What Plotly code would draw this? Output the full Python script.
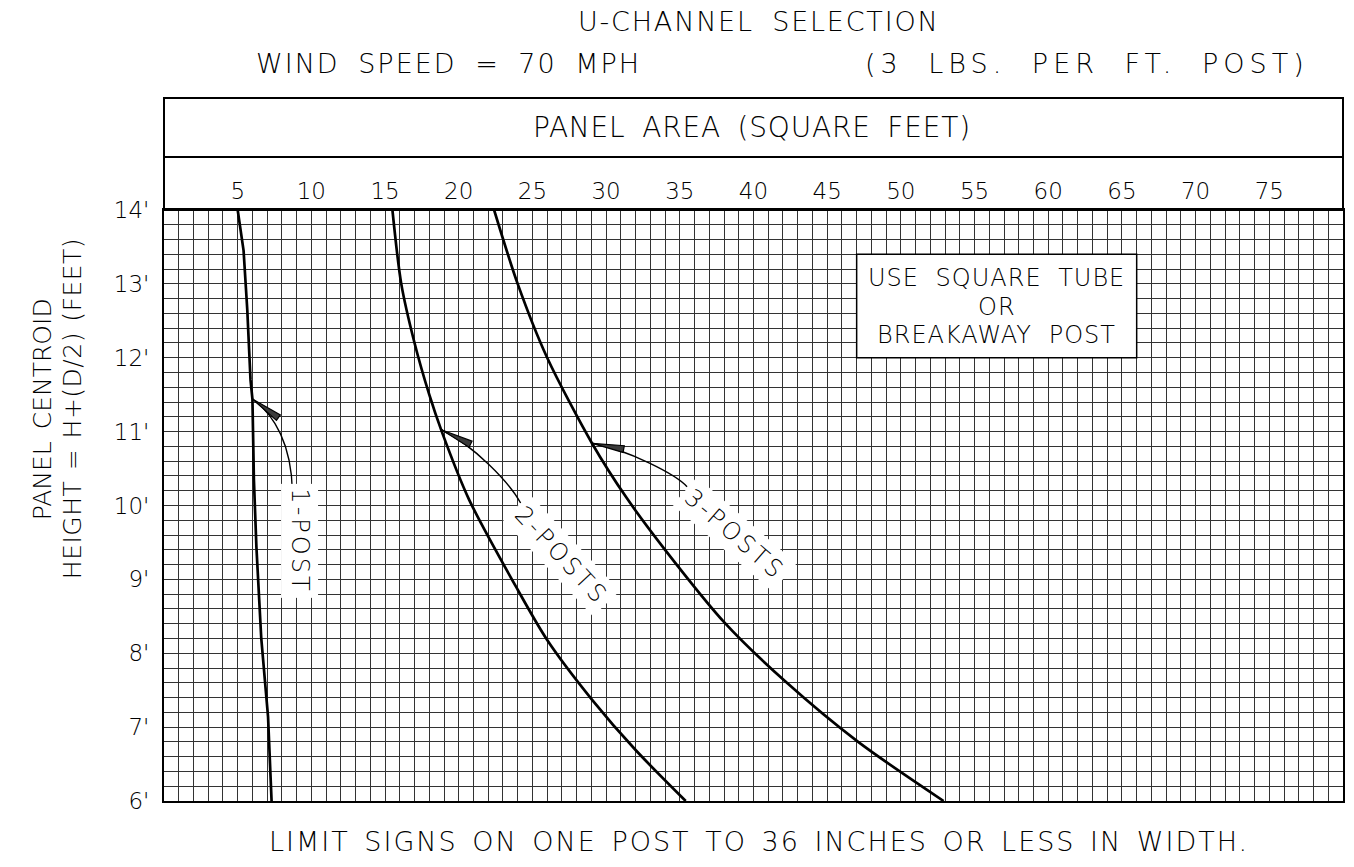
import math
import plotly.graph_objects as go

# ---------------- data ----------------
one_post_x = [5.0, 5.4, 5.65, 5.87, 6.0, 6.1, 6.27, 6.6, 7.06, 7.3]
one_post_y = [14.0, 13.45, 12.65, 11.7, 11.44, 10.35, 9.44, 8.2, 7.14, 6.0]

two_posts_x = [15.5, 16.1, 17.0, 18.0, 18.85, 20.7, 24.0, 26.0, 29.05, 32.0, 35.4]
two_posts_y = [14.0, 13.0, 12.2, 11.5, 11.0, 10.08, 8.86, 8.18, 7.37, 6.69, 6.0]

three_posts_x = [22.4, 24.0, 26.0, 29.05, 31.4, 34.0, 38.1, 42.15, 47.1, 52.9]
three_posts_y = [14.0, 13.0, 12.0, 10.84, 10.1, 9.4, 8.4, 7.62, 6.8, 6.0]

x_tick_vals = [5, 10, 15, 20, 25, 30, 35, 40, 45, 50, 55, 60, 65, 70, 75]
y_tick_vals = [6, 7, 8, 9, 10, 11, 12, 13, 14]
y_tick_text = ["6'", "7'", "8'", "9'", "10'", "11'", "12'", "13'", "14'"]

series_labels = ["1-POST", "2-POSTS", "3-POSTS"]

X_RANGE = [0, 80]
Y_RANGE = [6, 14]

# ---------------- layout helpers ----------------
W, H = 1354, 867
L, T = 164, 210
PR, PB = 1345, 801
R, B = W - PR, H - PB
PW, PH = W - L - R, H - T - B


def px(xp):   # page x pixel -> paper
    return (xp - L) / PW


def py(yp):   # page y pixel -> paper
    return (PB - yp) / PH


def dy_(yp):  # page y pixel -> data y
    return Y_RANGE[1] - (yp - T) / PH * (Y_RANGE[1] - Y_RANGE[0])


XS = PW / (X_RANGE[1] - X_RANGE[0])
YS = PH / (Y_RANGE[1] - Y_RANGE[0])

INK = "#000000"
FAM = "DejaVu Sans"


def F(size, weight=200):
    return dict(family=FAM, size=size, color=INK, weight=weight)


def sp(text, ls=0, ws=0):
    return '<span style="letter-spacing:{}px;word-spacing:{}px">{}</span>'.format(ls, ws, text)


fig = go.Figure()

curve_sets = [
    (one_post_x, one_post_y, "linear"),
    (two_posts_x, two_posts_y, "spline"),
    (three_posts_x, three_posts_y, "spline"),
]
for (xs, ys, shp), name in zip(curve_sets, series_labels):
    fig.add_trace(go.Scatter(
        x=xs, y=ys, mode="lines", name=name,
        line=dict(color=INK, width=2.7, shape=shp, smoothing=0.8),
        showlegend=False, hoverinfo="skip",
    ))

shapes = []
shapes.append(dict(type="rect", xref="paper", yref="paper",
                   x0=0, x1=1, y0=1, y1=py(98),
                   line=dict(color=INK, width=2), fillcolor="rgba(0,0,0,0)"))
shapes.append(dict(type="line", xref="paper", yref="paper",
                   x0=0, x1=1, y0=py(157), y1=py(157),
                   line=dict(color=INK, width=2)))
shapes.append(dict(type="rect", xref="x", yref="y", x0=47, x1=66, y0=12.0, y1=13.4,
                   line=dict(color=INK, width=1.5), fillcolor="white", layer="above"))

leaders = [
    [(8.711, 10.187), (8.663, 10.819), (7.513, 11.225), (6.003, 11.442)],
    [(24.21, 10.030), (23.42, 10.318), (21.05, 10.805), (18.86, 11.022)],
    [(35.49, 10.254), (34.79, 10.413), (31.54, 10.751), (29.06, 10.842)],
]
for p in leaders:
    path = "M {} {} C {} {}, {} {}, {} {}".format(
        p[0][0], p[0][1], p[1][0], p[1][1], p[2][0], p[2][1], p[3][0], p[3][1])
    shapes.append(dict(type="path", xref="x", yref="y", path=path,
                       line=dict(color=INK, width=1.4), layer="above"))
    (cx, cy), (tx, ty) = p[2], p[3]
    ddx, ddy = (tx - cx) * XS, (ty - cy) * YS
    n = math.hypot(ddx, ddy)
    ux, uy = ddx / n, ddy / n
    hl, hw = 32.0, 3.4
    bx, by = -ux * hl, -uy * hl
    lx, ly = bx - uy * hw, by + ux * hw
    rx, ry = bx + uy * hw, by - ux * hw
    head = "M {} {} L {} {} L {} {} Z".format(
        tx, ty, tx + lx / XS, ty + ly / YS, tx + rx / XS, ty + ry / YS)
    shapes.append(dict(type="path", xref="x", yref="y", path=head,
                       line=dict(color=INK, width=1.2), fillcolor="#3a3a3a", layer="above"))

annotations = []

label_pos = [(9.20, 9.52, 90), (26.94, 9.33, 47), (38.69, 9.61, 41)]
for name, (lx, ly, ang) in zip(series_labels, label_pos):
    annotations.append(dict(x=lx, y=ly, xref="x", yref="y", text=sp(name, 3),
                            showarrow=False, textangle=ang, bgcolor="white",
                            borderpad=4, font=F(24)))

box_lines = ["USE SQUARE TUBE", "OR", "BREAKAWAY POST"]
for line, yp in zip(box_lines, [278.3, 306.7, 335.0]):
    annotations.append(dict(x=56.5, y=dy_(yp), xref="x", yref="y",
                            text=sp(line, 1, 8), showarrow=False,
                            xanchor="center", yanchor="middle", font=F(24)))


def txt(t, xp, yp, font, angle=0):
    annotations.append(dict(x=px(xp), y=py(yp), xref="paper", yref="paper", text=t,
                            showarrow=False, textangle=angle,
                            xanchor="center", yanchor="middle", font=font))


txt(sp("U-CHANNEL SELECTION", 1.8, 8), 760, 21, F(27))
txt(sp("WIND SPEED = 70 MPH", 2, 8), 449, 63, F(27))
txt(sp("(3 LBS. PER FT. POST)", 5, 12), 1089, 63, F(27))
txt(sp("PANEL AREA (SQUARE FEET)", 0.8, 7), 753, 128, F(28))
txt(sp("LIMIT SIGNS ON ONE POST TO 36 INCHES OR LESS IN WIDTH.", 2, 4), 760, 841, F(27))
txt(sp("PANEL CENTROID", 0, 4), 42, 409, F(25), -90)
txt(sp("HEIGHT = H+(D/2) (FEET)", 0.5, 2), 72, 409, F(25), -90)

GRID = "#333333"
fig.update_layout(
    width=W, height=H,
    margin=dict(l=L, r=R, t=T, b=B, pad=0),
    paper_bgcolor="white", plot_bgcolor="white",
    font=dict(family=FAM, color=INK),
    shapes=shapes, annotations=annotations,
    xaxis=dict(range=X_RANGE, side="top", tickmode="array", tickvals=x_tick_vals,
               ticks="", showgrid=True, gridcolor=GRID, gridwidth=1,
               minor=dict(tickmode="linear", tick0=0, dtick=1, showgrid=True,
                          gridcolor=GRID, gridwidth=1),
               showline=True, mirror=True, linecolor=INK, linewidth=2,
               zeroline=False, tickfont=F(23), fixedrange=True),
    yaxis=dict(range=Y_RANGE, tickmode="array", tickvals=y_tick_vals, ticktext=y_tick_text,
               ticks="", showgrid=True, gridcolor=GRID, gridwidth=1,
               minor=dict(tickmode="linear", tick0=6, dtick=0.2, showgrid=True,
                          gridcolor=GRID, gridwidth=1),
               showline=True, mirror=True, linecolor=INK, linewidth=2,
               zeroline=False, tickfont=F(23), ticklabelstandoff=8,
               fixedrange=True),
)

fig.write_html("out.html", config={"displayModeBar": False},
               post_script="document.body.style.margin='0px';")
